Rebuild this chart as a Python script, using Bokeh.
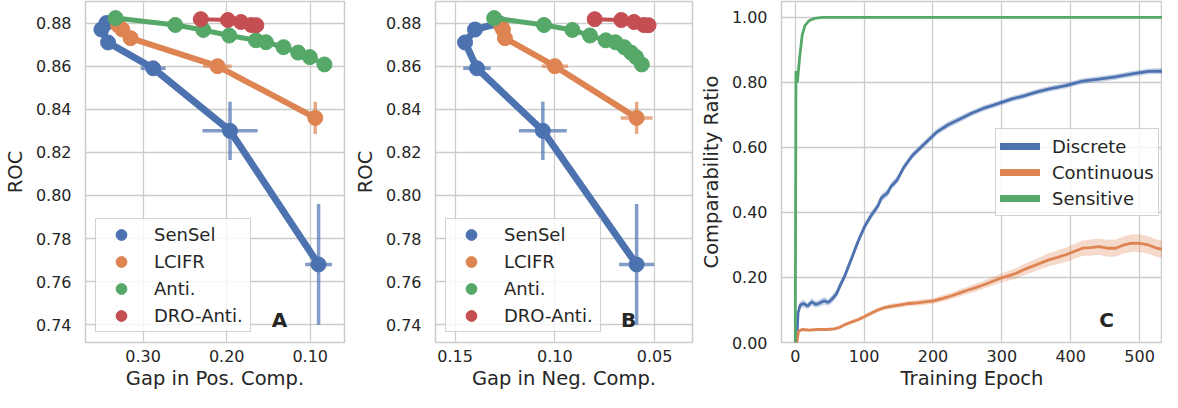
import numpy as np
from bokeh.plotting import figure
from bokeh.models import (Range1d, FixedTicker, NumeralTickFormatter, Legend,
                          LegendItem, Label)
from bokeh.layouts import row
from bokeh.embed import file_html
from bokeh.resources import INLINE

BLUE = "#4c72b0"
ORANGE = "#dd8452"
GREEN = "#55a868"
RED = "#c44e52"
TXT = "#262626"
FONT = "DejaVu Sans"

# ---------------- Panels A / B data ----------------
sensel_roc = [0.880, 0.877, 0.871, 0.859, 0.830, 0.768]
sensel_pos = [0.344, 0.350, 0.342, 0.288, 0.196, 0.090]
sensel_neg = [0.128, 0.140, 0.145, 0.139, 0.106, 0.059]
sensel_roc_err = [0.0, 0.0, 0.0, 0.002, 0.0135, 0.028]
sensel_pos_err = [0.0, 0.0, 0.0, 0.015, 0.033, 0.016]
sensel_neg_err = [0.0, 0.0, 0.0, 0.0069, 0.012, 0.0088]

lcifr_roc = [0.879, 0.877, 0.873, 0.860, 0.836]
lcifr_pos = [0.330, 0.325, 0.315, 0.211, 0.094]
lcifr_neg = [0.127, 0.126, 0.125, 0.100, 0.059]
lcifr_roc_err = [0.0, 0.0, 0.0, 0.001, 0.0075]
lcifr_pos_err = [0.0, 0.0, 0.0, 0.017, 0.005]
lcifr_neg_err = [0.0, 0.0, 0.0, 0.0066, 0.008]

anti_roc = [0.8823, 0.8791, 0.8768, 0.8742, 0.8720, 0.8711, 0.8688, 0.8663, 0.8642, 0.8608]
anti_pos = [0.333, 0.2615, 0.228, 0.197, 0.165, 0.153, 0.132, 0.1145, 0.1005, 0.083]
anti_neg = [0.1304, 0.1054, 0.0912, 0.0824, 0.0745, 0.0696, 0.0652, 0.0618, 0.0593, 0.0564]

dro_roc = [0.8818, 0.8814, 0.8805, 0.8791, 0.8790]
dro_pos = [0.231, 0.1985, 0.183, 0.1705, 0.1645]
dro_neg = [0.080, 0.0667, 0.0603, 0.0554, 0.0530]

roc_ticks = [0.74, 0.76, 0.78, 0.80, 0.82, 0.84, 0.86, 0.88]
pos_ticks = [0.10, 0.20, 0.30]
neg_ticks = [0.05, 0.10, 0.15]

# ---------------- Panel C data ----------------
disc_epoch = [0, 2, 4, 7, 12, 18, 24, 30, 36, 42, 48, 54, 60, 65, 72, 82, 91, 101,
              110, 120, 125, 134, 139, 148, 158, 170, 187, 206, 222, 240, 256, 273,
              288, 302, 316, 331, 350, 369, 393, 417, 441, 465, 489, 513, 530, 545]
disc_ratio = [0.0, 0.0, 0.09, 0.115, 0.12, 0.112, 0.125, 0.117, 0.122, 0.128, 0.123,
              0.135, 0.15, 0.175, 0.205, 0.26, 0.31, 0.358, 0.39, 0.42, 0.445, 0.46,
              0.48, 0.50, 0.54, 0.575, 0.61, 0.648, 0.67, 0.688, 0.705, 0.72, 0.73,
              0.74, 0.75, 0.758, 0.77, 0.78, 0.79, 0.804, 0.81, 0.817, 0.826, 0.834,
              0.835, 0.832]
disc_std = [0.0, 0.0, 0.01, 0.01, 0.012, 0.01, 0.012, 0.01, 0.011, 0.012, 0.01,
            0.012, 0.012, 0.013, 0.013, 0.012, 0.013, 0.012, 0.012, 0.011, 0.012, 0.012,
            0.011, 0.012, 0.011, 0.01, 0.01, 0.01, 0.01, 0.01, 0.009, 0.009, 0.009,
            0.009, 0.009, 0.009, 0.009, 0.009, 0.009, 0.009, 0.009, 0.009, 0.009, 0.009,
            0.009, 0.009]

cont_epoch = [0, 2, 5, 10, 20, 33, 45, 57, 65, 72, 82, 91, 101, 110, 120, 129, 141,
              153, 165, 177, 189, 201, 213, 226, 238, 249, 261, 273, 285, 297, 309,
              321, 333, 345, 357, 369, 381, 393, 405, 417, 429, 441, 453, 465, 477,
              489, 501, 513, 525, 537, 545]
cont_ratio = [0.0, 0.0, 0.035, 0.04, 0.038, 0.04, 0.04, 0.042, 0.047, 0.055, 0.063,
              0.07, 0.08, 0.09, 0.1, 0.107, 0.112, 0.116, 0.12, 0.122, 0.125, 0.128,
              0.135, 0.143, 0.152, 0.16, 0.168, 0.177, 0.187, 0.197, 0.205, 0.213,
              0.225, 0.235, 0.245, 0.255, 0.262, 0.27, 0.28, 0.29, 0.292, 0.295, 0.29,
              0.29, 0.3, 0.306, 0.305, 0.3, 0.29, 0.285, 0.278]
cont_std = [0.0, 0.0, 0.004, 0.004, 0.004, 0.004, 0.004, 0.005, 0.005, 0.005, 0.006,
            0.006, 0.006, 0.007, 0.007, 0.007, 0.008, 0.008, 0.008, 0.009, 0.009, 0.009,
            0.01, 0.01, 0.011, 0.011, 0.012, 0.012, 0.013, 0.014, 0.015, 0.016, 0.017,
            0.018, 0.019, 0.02, 0.021, 0.022, 0.023, 0.024, 0.025, 0.025, 0.026, 0.026,
            0.026, 0.027, 0.027, 0.027, 0.027, 0.027, 0.027]

sens_epoch = [0, 1, 3, 6, 10, 14, 20, 28, 40, 545]
sens_ratio = [0.0, 0.835, 0.80, 0.87, 0.945, 0.975, 0.99, 0.997, 1.0, 1.0]

epoch_ticks = [0, 100, 200, 300, 400, 500]
ratio_ticks = [0.0, 0.2, 0.4, 0.6, 0.8, 1.0]

H = 392


def style(p, xticks, yticks, xfmt, yfmt, xlabel, ylabel):
    p.background_fill_color = "white"
    p.border_fill_color = "white"
    p.outline_line_color = "#cccccc"
    p.outline_line_width = 1.5
    p.xaxis.ticker = FixedTicker(ticks=xticks)
    p.yaxis.ticker = FixedTicker(ticks=yticks)
    if xfmt:
        p.xaxis.formatter = NumeralTickFormatter(format=xfmt)
    if yfmt:
        p.yaxis.formatter = NumeralTickFormatter(format=yfmt)
    p.xaxis.axis_label = xlabel
    p.yaxis.axis_label = ylabel
    for ax in p.xaxis + p.yaxis:
        ax.axis_line_color = None
        ax.major_tick_line_color = None
        ax.minor_tick_line_color = None
        ax.major_tick_out = 0
        ax.major_tick_in = 0
        ax.minor_tick_out = 0
        ax.minor_tick_in = 0
        ax.major_label_text_font = FONT
        ax.major_label_text_font_size = "16px"
        ax.major_label_text_color = TXT
        ax.axis_label_text_font = FONT
        ax.axis_label_text_font_size = "19.5px"
        ax.axis_label_text_font_style = "normal"
        ax.axis_label_text_color = TXT
    p.xaxis.major_label_standoff = 7
    p.yaxis.major_label_standoff = 14
    p.xaxis.axis_label_standoff = 2
    p.yaxis.axis_label_standoff = 6
    p.grid.grid_line_color = "#cccccc"
    p.grid.grid_line_width = 1.3


series_ab = [
    ("SenSel", BLUE, 7, sensel_roc, sensel_pos, sensel_neg, sensel_roc_err, sensel_pos_err, sensel_neg_err),
    ("LCIFR", ORANGE, 6, lcifr_roc, lcifr_pos, lcifr_neg, lcifr_roc_err, lcifr_pos_err, lcifr_neg_err),
    ("Anti.", GREEN, 5, anti_roc, anti_pos, anti_neg, None, None, None),
    ("DRO-Anti.", RED, 4, dro_roc, dro_pos, dro_neg, None, None, None),
]


def ab_panel(use_pos, width, border_left, border_right, xr, xticks, xlabel, letter, letter_x):
    p = figure(width=width, height=H, x_range=Range1d(*xr),
               y_range=Range1d(0.7318, 0.8900), output_backend="svg",
               toolbar_location=None, min_border_left=border_left,
               min_border_right=border_right, min_border_top=1, min_border_bottom=46)
    style(p, xticks, roc_ticks, "0.00", "0.00", xlabel, "ROC")
    items = []
    for name, color, lw, roc, pos, neg, re_, pe, ne in series_ab:
        x = np.array(pos if use_pos else neg)
        y = np.array(roc)
        p.line(x, y, line_width=lw, color=color, line_join="round", line_cap="round")
        r = p.scatter(x, y, size=15, fill_color=color, line_color=color)
        if re_ is not None:
            xe = np.array(pe if use_pos else ne)
            ye = np.array(re_)
            p.segment(x - xe, y, x + xe, y, line_width=3.5, color=color, alpha=0.7)
            p.segment(x, y - ye, x, y + ye, line_width=3.5, color=color, alpha=0.7)
        items.append(LegendItem(label=name, renderers=[r]))
    leg = Legend(items=items, location=(10, 10), glyph_width=46, glyph_height=27,
                 label_height=27, padding=2, spacing=0, label_standoff=10,
                 label_width=94,
                 label_text_font=FONT, label_text_font_size="18px",
                 label_text_color=TXT, border_line_color="#cccccc",
                 border_line_alpha=0.9, background_fill_alpha=0.8)
    p.add_layout(leg, "center")
    p.add_layout(Label(x=letter_x, y=23, x_units="screen", y_units="screen",
                       text=letter, text_font=FONT, text_font_style="bold",
                       text_font_size="20px", text_color=TXT,
                       text_align="center", text_baseline="middle"))
    return p


pA = ab_panel(True, 350, 79, 6, (0.369, 0.059), pos_ticks, "Gap in Pos. Comp.", "A", 194)
pB = ab_panel(False, 346, 79, 4, (0.1598, 0.031), neg_ticks, "Gap in Neg. Comp.", "B", 193)

# ---------------- Panel C ----------------
pC = figure(width=466, height=H, x_range=Range1d(-20, 533.3), y_range=Range1d(0.0, 1.049),
            output_backend="svg", toolbar_location=None, min_border_left=82,
            min_border_right=0, min_border_top=1, min_border_bottom=46)
style(pC, epoch_ticks, ratio_ticks, None, "0.00", "Training Epoch", "Comparability Ratio")

de = np.array(disc_epoch); dv = np.array(disc_ratio); ds = np.array(disc_std)
ce = np.array(cont_epoch); cv = np.array(cont_ratio); cs = np.array(cont_std)
pC.varea(x=de, y1=dv - ds, y2=dv + ds, fill_color=BLUE, fill_alpha=0.3)
pC.line(de, dv, line_width=2.8, color=BLUE)
pC.varea(x=ce, y1=cv - cs, y2=cv + cs, fill_color=ORANGE, fill_alpha=0.3)
pC.line(ce, cv, line_width=2.8, color=ORANGE)
pC.line(sens_epoch, sens_ratio, line_width=2.8, color=GREEN)

nan = [float("nan")]
lg_d = pC.line(x=nan, y=nan, line_width=7, color=BLUE, line_cap="round")
lg_c = pC.line(x=nan, y=nan, line_width=7, color=ORANGE, line_cap="round")
lg_s = pC.line(x=nan, y=nan, line_width=7, color=GREEN, line_cap="round")
legC = Legend(items=[LegendItem(label="Discrete", renderers=[lg_d]),
                     LegendItem(label="Continuous", renderers=[lg_c]),
                     LegendItem(label="Sensitive", renderers=[lg_s])],
              location=(214, 126), glyph_width=40, glyph_height=26, label_height=26,
              padding=4, spacing=0, label_standoff=12, label_text_font=FONT,
              label_text_font_size="18px", label_text_color=TXT,
              border_line_color="#cccccc", border_line_alpha=0.9,
              background_fill_alpha=0.8)
pC.add_layout(legC, "center")
pC.add_layout(Label(x=325, y=23, x_units="screen", y_units="screen", text="C",
                    text_font=FONT, text_font_style="bold", text_font_size="20px",
                    text_color=TXT, text_align="center", text_baseline="middle"))

layout = row(pA, pB, pC)
open("out.html", "w").write(file_html(layout, INLINE))
